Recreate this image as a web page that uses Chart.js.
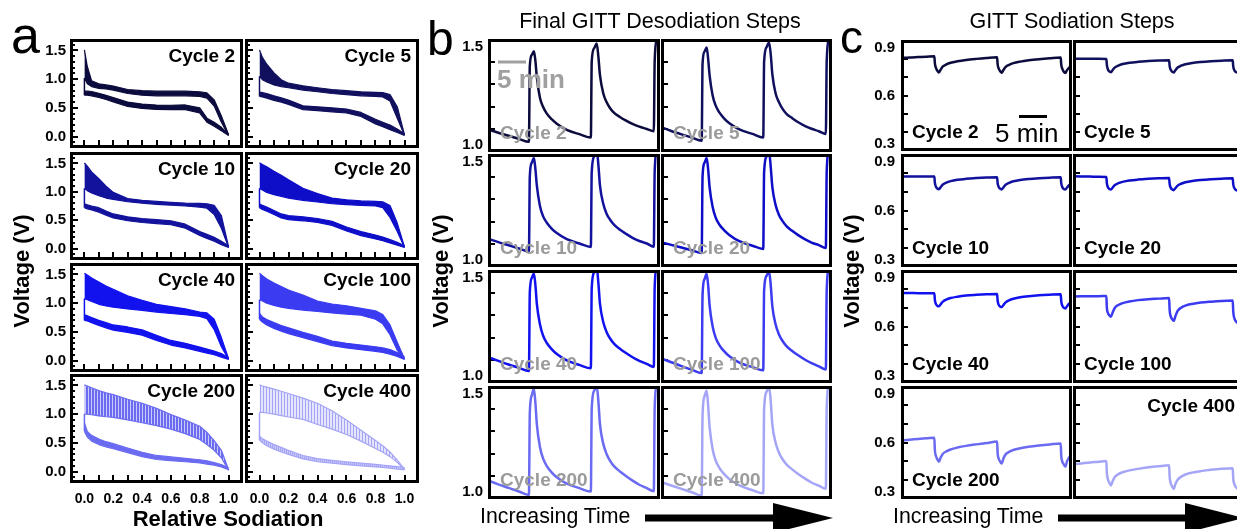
<!DOCTYPE html>
<html>
<head>
<meta charset="utf-8">
<script src="https://cdn.jsdelivr.net/npm/chart.js"></script>
<style>
html,body{margin:0;padding:0;background:#fff;overflow:hidden;}
#stage{position:relative;width:1237px;height:529px;overflow:hidden;background:#fff;}
#stage canvas{position:absolute;}
#stage svg{position:absolute;left:0;top:0;z-index:10;pointer-events:none;}
</style>
</head>
<body>
<div id="stage"></div>
<script>
// ------------------------------------------------------------------ DATA
const CYCLES = ['Cycle 2','Cycle 5','Cycle 10','Cycle 20','Cycle 40','Cycle 100','Cycle 200','Cycle 400'];

// Panel a : relative sodiation grid and band edges (V) for each cycle
const relSodiation = [0, 0.02, 0.05, 0.1, 0.15, 0.2, 0.3, 0.4, 0.5, 0.6, 0.7, 0.8, 0.85, 0.9, 0.95, 1.0];
const desodTop = [
  [1.51, 1.22, 0.97, 0.92, 0.90, 0.88, 0.82, 0.80, 0.79, 0.79, 0.79, 0.78, 0.76, 0.64, 0.36, 0.03],
  [1.51, 1.38, 1.26, 1.11, 0.99, 0.93, 0.885, 0.85, 0.82, 0.80, 0.78, 0.77, 0.765, 0.73, 0.52, 0.03],
  [1.51, 1.45, 1.35, 1.23, 1.10, 0.99, 0.88, 0.85, 0.83, 0.815, 0.80, 0.795, 0.79, 0.76, 0.58, 0.03],
  [1.51, 1.48, 1.44, 1.36, 1.29, 1.21, 1.06, 0.97, 0.89, 0.86, 0.84, 0.83, 0.825, 0.76, 0.45, 0.03],
  [1.52, 1.49, 1.44, 1.37, 1.30, 1.24, 1.13, 1.05, 0.98, 0.94, 0.90, 0.845, 0.83, 0.72, 0.40, 0.03],
  [1.52, 1.48, 1.42, 1.35, 1.29, 1.23, 1.14, 1.035, 0.985, 0.955, 0.91, 0.865, 0.80, 0.62, 0.32, 0.03],
  [1.51, 1.49, 1.46, 1.41, 1.37, 1.34, 1.26, 1.19, 1.10, 0.995, 0.895, 0.79, 0.68, 0.54, 0.37, 0.03],
  [1.51, 1.49, 1.47, 1.435, 1.40, 1.36, 1.28, 1.19, 1.06, 0.90, 0.72, 0.54, 0.45, 0.34, 0.20, 0.04]
];
const desodBottom = [
  [1.02, 0.92, 0.87, 0.84, 0.83, 0.81, 0.75, 0.72, 0.71, 0.71, 0.71, 0.70, 0.67, 0.53, 0.25, 0.02],
  [1.05, 0.99, 0.95, 0.90, 0.87, 0.85, 0.81, 0.78, 0.75, 0.73, 0.71, 0.70, 0.69, 0.62, 0.32, 0.02],
  [1.06, 1.02, 0.98, 0.93, 0.89, 0.865, 0.825, 0.80, 0.78, 0.765, 0.75, 0.73, 0.71, 0.60, 0.36, 0.02],
  [1.06, 1.03, 0.99, 0.95, 0.92, 0.89, 0.85, 0.82, 0.79, 0.775, 0.76, 0.75, 0.72, 0.55, 0.30, 0.02],
  [1.08, 1.06, 1.03, 0.98, 0.95, 0.93, 0.90, 0.875, 0.845, 0.82, 0.80, 0.77, 0.73, 0.54, 0.24, 0.02],
  [1.06, 1.04, 1.00, 0.96, 0.93, 0.91, 0.88, 0.855, 0.83, 0.81, 0.79, 0.72, 0.64, 0.45, 0.18, 0.02],
  [1.00, 1.00, 0.99, 0.97, 0.955, 0.945, 0.90, 0.85, 0.80, 0.74, 0.66, 0.56, 0.47, 0.37, 0.24, 0.02],
  [1.03, 1.03, 1.02, 1.00, 0.975, 0.95, 0.91, 0.82, 0.74, 0.645, 0.53, 0.40, 0.335, 0.26, 0.16, 0.03]
];
const sodTop = [
  [0.79, 0.79, 0.785, 0.755, 0.72, 0.68, 0.60, 0.565, 0.548, 0.545, 0.55, 0.50, 0.32, 0.25, 0.16, 0.04],
  [0.775, 0.765, 0.75, 0.71, 0.675, 0.635, 0.535, 0.517, 0.50, 0.48, 0.42, 0.30, 0.25, 0.20, 0.13, 0.05],
  [0.79, 0.77, 0.75, 0.72, 0.66, 0.61, 0.56, 0.53, 0.51, 0.49, 0.43, 0.30, 0.25, 0.20, 0.13, 0.05],
  [0.79, 0.76, 0.73, 0.67, 0.61, 0.58, 0.56, 0.53, 0.48, 0.38, 0.30, 0.24, 0.205, 0.16, 0.11, 0.05],
  [0.80, 0.78, 0.75, 0.70, 0.66, 0.62, 0.585, 0.535, 0.44, 0.35, 0.30, 0.235, 0.20, 0.165, 0.12, 0.05],
  [0.82, 0.76, 0.715, 0.66, 0.61, 0.57, 0.49, 0.42, 0.34, 0.30, 0.27, 0.24, 0.22, 0.19, 0.14, 0.06],
  [0.85, 0.70, 0.63, 0.565, 0.52, 0.485, 0.41, 0.335, 0.28, 0.255, 0.23, 0.205, 0.185, 0.155, 0.12, 0.06],
  [0.62, 0.57, 0.53, 0.47, 0.42, 0.37, 0.28, 0.225, 0.195, 0.17, 0.145, 0.125, 0.11, 0.10, 0.085, 0.07]
];
const sodBottom = [
  [0.72, 0.72, 0.71, 0.68, 0.645, 0.605, 0.525, 0.49, 0.473, 0.47, 0.47, 0.41, 0.25, 0.18, 0.10, 0.02],
  [0.70, 0.69, 0.67, 0.63, 0.60, 0.56, 0.47, 0.45, 0.43, 0.41, 0.35, 0.22, 0.17, 0.12, 0.07, 0.02],
  [0.72, 0.70, 0.68, 0.64, 0.59, 0.54, 0.49, 0.46, 0.44, 0.42, 0.36, 0.23, 0.18, 0.13, 0.07, 0.02],
  [0.72, 0.69, 0.66, 0.60, 0.54, 0.51, 0.49, 0.46, 0.41, 0.31, 0.23, 0.17, 0.14, 0.10, 0.06, 0.02],
  [0.70, 0.69, 0.66, 0.61, 0.57, 0.53, 0.49, 0.44, 0.35, 0.27, 0.22, 0.16, 0.13, 0.10, 0.06, 0.02],
  [0.72, 0.67, 0.62, 0.56, 0.51, 0.47, 0.40, 0.33, 0.26, 0.22, 0.19, 0.16, 0.14, 0.11, 0.07, 0.02],
  [0.70, 0.60, 0.53, 0.47, 0.43, 0.40, 0.33, 0.26, 0.21, 0.19, 0.17, 0.15, 0.13, 0.11, 0.08, 0.03],
  [0.55, 0.50, 0.45, 0.39, 0.34, 0.30, 0.22, 0.17, 0.145, 0.12, 0.10, 0.08, 0.07, 0.06, 0.04, 0.03]
];
const A_Y_LABELS = [0, 0.5, 1.0, 1.5];
const A_Y_MINOR = [-0.1, 0, 0.1, 0.2, 0.3, 0.4, 0.5, 0.6, 0.7, 0.8, 0.9, 1.0, 1.1, 1.2, 1.3, 1.4, 1.5, 1.6];
const A_X_TICKS = [0, 0.1, 0.2, 0.3, 0.4, 0.5, 0.6, 0.7, 0.8, 0.9, 1.0];
const A_X_LABELS = [0, 0.2, 0.4, 0.6, 0.8, 1.0];

// Panel b : final GITT desodiation steps (time in % of window, V)
const timeB = [0, 6, 12, 18, 23.8, 24.3, 25.5, 26.7, 27.6, 28.4, 30.2, 32, 34.1, 37, 40, 45.8, 53.5, 59.8,
               60.3, 61.8, 63.2, 64.2, 65.1, 67, 69, 70.9, 73.5, 76.7, 80, 84.3, 88, 92.3, 96.4, 96.9, 98.2, 100];
const desodSteps = [
  [1.100, 1.085, 1.072, 1.058, 1.045, 1.38, 1.43, 1.446, 1.40, 1.33, 1.24, 1.20, 1.171, 1.145, 1.125, 1.098, 1.078, 1.064, 1.40, 1.46, 1.48, 1.42, 1.34, 1.26, 1.22, 1.195, 1.172, 1.155, 1.14, 1.123, 1.112, 1.102, 1.092, 1.40, 1.50, 1.53],
  [1.110, 1.093, 1.078, 1.064, 1.050, 1.39, 1.445, 1.462, 1.41, 1.34, 1.25, 1.205, 1.175, 1.148, 1.127, 1.100, 1.080, 1.064, 1.40, 1.465, 1.485, 1.43, 1.345, 1.26, 1.22, 1.193, 1.168, 1.150, 1.133, 1.115, 1.103, 1.092, 1.080, 1.40, 1.50, 1.53],
  [1.125, 1.110, 1.096, 1.082, 1.069, 1.40, 1.462, 1.482, 1.43, 1.36, 1.27, 1.225, 1.197, 1.170, 1.150, 1.123, 1.103, 1.089, 1.42, 1.49, 1.52, 1.45, 1.36, 1.28, 1.235, 1.21, 1.185, 1.165, 1.148, 1.128, 1.115, 1.104, 1.090, 1.42, 1.52, 1.55],
  [1.110, 1.098, 1.086, 1.074, 1.062, 1.40, 1.462, 1.482, 1.43, 1.355, 1.265, 1.218, 1.188, 1.162, 1.142, 1.114, 1.094, 1.080, 1.42, 1.49, 1.51, 1.44, 1.355, 1.275, 1.23, 1.205, 1.18, 1.16, 1.142, 1.122, 1.108, 1.097, 1.084, 1.42, 1.52, 1.55],
  [1.114, 1.098, 1.082, 1.067, 1.053, 1.40, 1.465, 1.485, 1.43, 1.35, 1.26, 1.21, 1.178, 1.150, 1.128, 1.100, 1.079, 1.065, 1.42, 1.49, 1.51, 1.44, 1.35, 1.27, 1.225, 1.198, 1.172, 1.152, 1.134, 1.113, 1.098, 1.085, 1.071, 1.42, 1.52, 1.55],
  [1.109, 1.092, 1.075, 1.059, 1.044, 1.39, 1.46, 1.483, 1.43, 1.345, 1.25, 1.20, 1.168, 1.140, 1.118, 1.090, 1.070, 1.056, 1.41, 1.475, 1.495, 1.43, 1.34, 1.26, 1.215, 1.188, 1.162, 1.142, 1.124, 1.103, 1.088, 1.074, 1.060, 1.41, 1.51, 1.54],
  [1.082, 1.065, 1.049, 1.033, 1.018, 1.38, 1.46, 1.488, 1.42, 1.33, 1.23, 1.18, 1.147, 1.118, 1.096, 1.068, 1.047, 1.033, 1.40, 1.48, 1.50, 1.43, 1.33, 1.245, 1.198, 1.170, 1.143, 1.122, 1.103, 1.080, 1.063, 1.048, 1.034, 1.40, 1.51, 1.54],
  [1.075, 1.060, 1.045, 1.030, 1.015, 1.37, 1.455, 1.480, 1.41, 1.32, 1.22, 1.17, 1.138, 1.110, 1.088, 1.060, 1.039, 1.025, 1.40, 1.475, 1.497, 1.43, 1.33, 1.25, 1.205, 1.178, 1.152, 1.131, 1.112, 1.090, 1.073, 1.059, 1.045, 1.40, 1.51, 1.54]
];
const B_Y_LABELS = [1.0, 1.5];
const B_Y_TICKS = [1.1, 1.2, 1.3, 1.4];

// Panel c : GITT sodiation steps (time in % of window, V)
const timeC = [0, 5, 10, 15, 19.5, 19.8, 20.4, 21.2, 22.2, 23.2, 24.5, 26.5, 29, 33, 38, 44, 50, 56.2,
               56.5, 57.1, 57.9, 58.9, 59.9, 61.2, 63.2, 65.7, 69.7, 74.7, 80.7, 87, 93.4, 93.7, 94.3, 95.1, 96.1, 97.1, 98.4, 100];
const sodSteps = [
  [0.803, 0.806, 0.808, 0.810, 0.812, 0.775, 0.750, 0.735, 0.725, 0.740, 0.757, 0.768, 0.777, 0.785, 0.792, 0.798, 0.803, 0.807, 0.770, 0.747, 0.733, 0.723, 0.738, 0.755, 0.766, 0.775, 0.783, 0.790, 0.796, 0.801, 0.805, 0.768, 0.745, 0.730, 0.722, 0.737, 0.752, 0.760],
  [0.799, 0.799, 0.798, 0.798, 0.797, 0.765, 0.742, 0.730, 0.726, 0.738, 0.752, 0.762, 0.770, 0.777, 0.782, 0.786, 0.789, 0.791, 0.760, 0.740, 0.729, 0.725, 0.737, 0.751, 0.761, 0.769, 0.776, 0.781, 0.785, 0.788, 0.790, 0.758, 0.738, 0.728, 0.724, 0.735, 0.748, 0.755],
  [0.781, 0.781, 0.780, 0.780, 0.780, 0.748, 0.727, 0.717, 0.713, 0.724, 0.738, 0.748, 0.756, 0.763, 0.768, 0.772, 0.775, 0.777, 0.746, 0.726, 0.716, 0.712, 0.723, 0.737, 0.747, 0.755, 0.762, 0.767, 0.771, 0.774, 0.776, 0.745, 0.725, 0.715, 0.711, 0.722, 0.735, 0.742],
  [0.782, 0.781, 0.780, 0.779, 0.778, 0.745, 0.724, 0.715, 0.711, 0.722, 0.735, 0.745, 0.752, 0.759, 0.764, 0.768, 0.771, 0.773, 0.742, 0.722, 0.712, 0.708, 0.719, 0.732, 0.742, 0.750, 0.757, 0.762, 0.766, 0.769, 0.771, 0.740, 0.720, 0.710, 0.706, 0.717, 0.729, 0.736],
  [0.778, 0.778, 0.777, 0.777, 0.777, 0.742, 0.720, 0.710, 0.707, 0.718, 0.732, 0.743, 0.751, 0.758, 0.764, 0.768, 0.771, 0.773, 0.738, 0.716, 0.706, 0.703, 0.714, 0.728, 0.739, 0.747, 0.755, 0.761, 0.766, 0.769, 0.771, 0.735, 0.712, 0.700, 0.696, 0.708, 0.722, 0.728],
  [0.759, 0.760, 0.761, 0.761, 0.762, 0.700, 0.672, 0.660, 0.652, 0.675, 0.700, 0.714, 0.724, 0.733, 0.740, 0.745, 0.748, 0.751, 0.690, 0.655, 0.640, 0.630, 0.655, 0.683, 0.700, 0.711, 0.720, 0.727, 0.732, 0.736, 0.738, 0.680, 0.645, 0.630, 0.620, 0.640, 0.660, 0.670],
  [0.610, 0.615, 0.619, 0.622, 0.625, 0.560, 0.530, 0.512, 0.498, 0.520, 0.540, 0.553, 0.563, 0.573, 0.582, 0.590, 0.597, 0.605, 0.545, 0.515, 0.500, 0.489, 0.515, 0.537, 0.550, 0.560, 0.569, 0.577, 0.584, 0.590, 0.595, 0.530, 0.500, 0.485, 0.472, 0.500, 0.522, 0.532],
  [0.484, 0.489, 0.494, 0.498, 0.502, 0.440, 0.405, 0.388, 0.372, 0.395, 0.418, 0.432, 0.442, 0.452, 0.460, 0.468, 0.474, 0.479, 0.420, 0.385, 0.368, 0.354, 0.380, 0.402, 0.418, 0.430, 0.440, 0.448, 0.455, 0.460, 0.463, 0.410, 0.380, 0.365, 0.355, 0.370, 0.385, 0.392]
];
const C_Y_LABELS = [0.3, 0.6, 0.9];
const C_Y_TICKS = [0.4, 0.5, 0.6, 0.7, 0.8];

// ------------------------------------------------------------------ STYLE / LAYOUT
const COLORS = ['#0b0b3d','#10105e','#12129c','#0e0ec9','#1212ee','#3b3bf2','#6b6bf2','#a5a5f7'];
const FONT = "'Liberation Sans', Arial, Helvetica, sans-serif";
const A_COLS = [{x:70, w:173}, {x:245, w:174}];
const A_ROWS = [{y:39, h:109}, {y:152, h:108}, {y:263, h:109}, {y:374, h:109}];
const B_COLS = [{x:488, w:172}, {x:661, w:171}];
const B_ROWS = [{y:39, h:113}, {y:154, h:113}, {y:270, h:113}, {y:386, h:113}];
const C_COLS = [{x:901, w:171}, {x:1073, w:171}];
const C_ROWS = [{y:40, h:111}, {y:154, h:113}, {y:270, h:113}, {y:386, h:113}];

Chart.defaults.font.family = FONT;
const stage = document.getElementById('stage');
const P = 3;

const framePlugin = {
  id: 'frame',
  afterDraw(chart) {
    const a = chart.chartArea, ctx = chart.ctx;
    ctx.save();
    ctx.strokeStyle = '#000';
    ctx.lineWidth = 3;
    ctx.strokeRect(a.left + 1.5, a.top + 1.5, a.right - a.left - 3, a.bottom - a.top - 3);
    ctx.restore();
  }
};

function hatch(color, period, on, bgAlpha) {
  const c = document.createElement('canvas');
  c.width = period; c.height = 1;
  const x = c.getContext('2d');
  x.fillStyle = color;
  x.globalAlpha = bgAlpha; x.fillRect(0, 0, period, 1);
  x.globalAlpha = 1; x.fillRect(0, 0, on, 1);
  return x.createPattern(c, 'repeat');
}

function line(data, color, width, extra) {
  return Object.assign({data, borderColor: color, borderWidth: width, pointRadius: 0, pointHoverRadius: 0,
    fill: false, tension: 0, xAxisID: 'x', yAxisID: 'y', borderJoinStyle: 'round'}, extra || {});
}

function labelRange(lo, hi, h, topIn, botIn) {
  const ppv = (h - topIn - botIn) / (hi - lo);
  return [lo - botIn / ppv, hi + topIn / ppv];
}

function noPad(s) { s.paddingTop = 0; s.paddingBottom = 0; s.paddingLeft = 0; s.paddingRight = 0; }

function addChart(rect, o) {
  const L = o.yLabels ? o.labelW : 0;
  const B = o.xLabels ? o.labelH : 0;
  const W = rect.w + L + 2 * P, H = rect.h + B + 2 * P;
  const cv = document.createElement('canvas');
  cv.width = W; cv.height = H;
  cv.style.left = (rect.x - L - P) + 'px';
  cv.style.top = (rect.y - P) + 'px';
  cv.style.width = W + 'px'; cv.style.height = H + 'px';
  stage.appendChild(cv);
  const setTicks = arr => s => { s.ticks = arr.map(v => ({value: v})); };
  const markAxis = (pos, min, max, ticks, len) => ({
    type: 'linear', position: pos, min, max, display: ticks.length > 0, weight: 0,
    ticks: {display: false},
    border: {display: false},
    grid: {display: true, drawOnChartArea: false, drawTicks: true, tickLength: -len, color: '#000', lineWidth: 2},
    afterBuildTicks: setTicks(ticks),
    afterFit: s => { if (pos === 'left') s.width = 0; else s.height = 0; noPad(s); }
  });
  const scales = {
    x: markAxis('bottom', o.xMin, o.xMax, o.xMarks || [], o.xMarkLen || 0),
    y: markAxis('left', o.yMin, o.yMax, o.yMarks, o.yMarkLen)
  };
  if (o.yMajor) scales.yMaj = markAxis('left', o.yMin, o.yMax, o.yMajor, o.yMajorLen);
  if (o.yLabels) {
    scales.yLab = {
      type: 'linear', position: 'left', weight: 1, min: o.yLabMin, max: o.yLabMax,
      border: {display: false}, grid: {display: false, drawTicks: false},
      ticks: {padding: o.yLabPad, color: '#000', autoSkip: false, maxRotation: 0,
              font: {size: o.yLabFont, weight: 'bold', family: FONT}, callback: v => Number(v).toFixed(1)},
      afterBuildTicks: setTicks(o.yLabels),
      afterFit: s => { s.width = L; noPad(s); }
    };
  }
  if (o.xLabels) {
    scales.xLab = {
      type: 'linear', position: 'bottom', weight: 1, min: o.xMin, max: o.xMax,
      border: {display: false}, grid: {display: false, drawTicks: false},
      ticks: {padding: o.xLabPad, color: '#000', autoSkip: false, maxRotation: 0,
              font: {size: o.xLabFont, weight: 'bold', family: FONT}, callback: v => Number(v).toFixed(1)},
      afterBuildTicks: setTicks(o.xLabels),
      afterFit: s => { s.height = B; noPad(s); }
    };
  }
  new Chart(cv, {
    type: 'line',
    data: {datasets: o.datasets},
    options: {
      responsive: false, animation: false, devicePixelRatio: 1, events: [],
      layout: {padding: {left: P, right: P, top: P, bottom: P}},
      plugins: {legend: {display: false}, tooltip: {enabled: false}},
      scales
    },
    plugins: [framePlugin]
  });
}

// ---- panel a
CYCLES.forEach((name, i) => {
  const r = Math.floor(i / 2), c = i % 2;
  const col = COLORS[i];
  const upFill = i === 6 ? hatch(col, 3, 2, 0.35) : (i === 7 ? hatch(col, 3, 1, 0.3) : col);
  const loFill = i === 7 ? hatch(col, 2, 1, 0.6) : col;
  const pts = arr => relSodiation.map((x, k) => ({x, y: arr[k]}));
  const ds = [
    line(pts(desodTop[i]), col, 1.2, {fill: '+1', backgroundColor: upFill}),
    line(pts(desodBottom[i]), col, 1.2),
    line(pts(sodTop[i]), col, 1.2, {fill: '+1', backgroundColor: loFill}),
    line(pts(sodBottom[i]), col, 1.2),
    line([{x: relSodiation[0], y: sodBottom[i][0]}, {x: relSodiation[0], y: desodBottom[i][0]}], col, 1.5)
  ];
  addChart({x: A_COLS[c].x, y: A_ROWS[r].y, w: A_COLS[c].w, h: A_ROWS[r].h}, {
    datasets: ds, xMin: -0.1, xMax: 1.1, yMin: -0.2, yMax: 1.7,
    xMarks: A_X_TICKS, xMarkLen: 8, yMarks: A_Y_MINOR, yMarkLen: 5, yMajor: A_Y_LABELS, yMajorLen: 8,
    yLabels: c === 0 ? A_Y_LABELS : null, labelW: 50, yLabMin: -0.2, yLabMax: 1.7, yLabPad: 4, yLabFont: 15,
    xLabels: r === 3 ? A_X_LABELS : null, labelH: 26, xLabPad: 8, xLabFont: 14
  });
});

// ---- panel b
CYCLES.forEach((name, i) => {
  const r = Math.floor(i / 2), c = i % 2;
  const rect = {x: B_COLS[c].x, y: B_ROWS[r].y, w: B_COLS[c].w, h: B_ROWS[r].h};
  const lr = labelRange(1.0, 1.5, rect.h, 8, 7);
  addChart(rect, {
    datasets: [line(timeB.map((t, k) => ({x: t, y: desodSteps[i][k]})), COLORS[i], 2.5, {cubicInterpolationMode: 'monotone'})],
    xMin: 0, xMax: 100, yMin: 1.0, yMax: 1.5,
    yMarks: B_Y_TICKS, yMarkLen: 7,
    yLabels: c === 0 ? B_Y_LABELS : null, labelW: 45, yLabMin: lr[0], yLabMax: lr[1], yLabPad: 5, yLabFont: 15
  });
});

// ---- panel c
CYCLES.forEach((name, i) => {
  const r = Math.floor(i / 2), c = i % 2;
  const rect = {x: C_COLS[c].x, y: C_ROWS[r].y, w: C_COLS[c].w, h: C_ROWS[r].h};
  const lr = labelRange(0.3, 0.9, rect.h, 8, 7);
  addChart(rect, {
    datasets: [line(timeC.map((t, k) => ({x: t, y: sodSteps[i][k]})), COLORS[i], 2.5, {cubicInterpolationMode: 'monotone'})],
    xMin: 0, xMax: 100, yMin: 0.3, yMax: 0.9,
    yMarks: C_Y_TICKS, yMarkLen: 7,
    yLabels: c === 0 ? C_Y_LABELS : null, labelW: 45, yLabMin: lr[0], yLabMax: lr[1], yLabPad: 6, yLabFont: 15
  });
});

// ------------------------------------------------------------------ TEXT & ARROWS
const NS = 'http://www.w3.org/2000/svg';
const svg = document.createElementNS(NS, 'svg');
svg.setAttribute('width', 1237); svg.setAttribute('height', 529);
stage.appendChild(svg);
function txt(s, x, y, size, o) {
  o = o || {};
  const t = document.createElementNS(NS, 'text');
  t.textContent = s;
  t.setAttribute('x', x); t.setAttribute('y', y);
  t.setAttribute('font-size', size);
  t.setAttribute('font-family', FONT);
  if (o.bold) t.setAttribute('font-weight', 'bold');
  t.setAttribute('fill', o.fill || '#000');
  if (o.anchor) t.setAttribute('text-anchor', o.anchor);
  if (o.rot) t.setAttribute('transform', 'rotate(-90 ' + x + ' ' + y + ')');
  svg.appendChild(t);
}
function shape(tag, attrs) {
  const e = document.createElementNS(NS, tag);
  for (const k in attrs) e.setAttribute(k, attrs[k]);
  svg.appendChild(e);
}

txt('a', 11, 53, 52);
txt('b', 427, 55, 48);
txt('c', 840, 53, 46);
txt('Final GITT Desodiation Steps', 660, 28, 21.5, {anchor: 'middle'});
txt('GITT Sodiation Steps', 1072, 28, 21.5, {anchor: 'middle'});
txt('Voltage (V)', 29, 271, 22, {bold: true, anchor: 'middle', rot: true});
txt('Voltage (V)', 448, 271, 22, {bold: true, anchor: 'middle', rot: true});
txt('Voltage (V)', 859, 271, 22, {bold: true, anchor: 'middle', rot: true});
txt('Relative Sodiation', 228, 526, 22, {bold: true, anchor: 'middle'});
txt('Increasing Time', 480, 523, 21.3);
txt('Increasing Time', 893, 523, 21.3);
shape('rect', {x: 645, y: 514.5, width: 130, height: 7, fill: '#000'});
shape('polygon', {points: '773,503 773,533 833,518', fill: '#000'});
shape('rect', {x: 1058, y: 514.5, width: 129, height: 7, fill: '#000'});
shape('polygon', {points: '1185,503 1185,533 1244,518', fill: '#000'});

CYCLES.forEach((name, i) => {
  const r = Math.floor(i / 2), c = i % 2;
  txt(name, A_COLS[c].x + A_COLS[c].w - 8, A_ROWS[r].y + 23, 19, {bold: true, anchor: 'end'});
  txt(name, B_COLS[c].x + 12, B_ROWS[r].y + B_ROWS[r].h - 13, 19, {bold: true, fill: '#9b9b9b'});
  if (i === 7) txt(name, 1235, C_ROWS[r].y + 26, 19, {bold: true, anchor: 'end'});
  else txt(name, C_COLS[c].x + 11, C_ROWS[r].y + C_ROWS[r].h - 13, 19, {bold: true});
});

// scale bars
shape('line', {x1: 498, y1: 62, x2: 526, y2: 62, stroke: '#a0a0a0', 'stroke-width': 3});
txt('5 min', 497, 88, 26, {bold: true, fill: '#a0a0a0'});
shape('line', {x1: 1019, y1: 116.5, x2: 1047, y2: 116.5, stroke: '#000', 'stroke-width': 3});
txt('5 min', 995, 142, 26);
</script>
</body>
</html>
